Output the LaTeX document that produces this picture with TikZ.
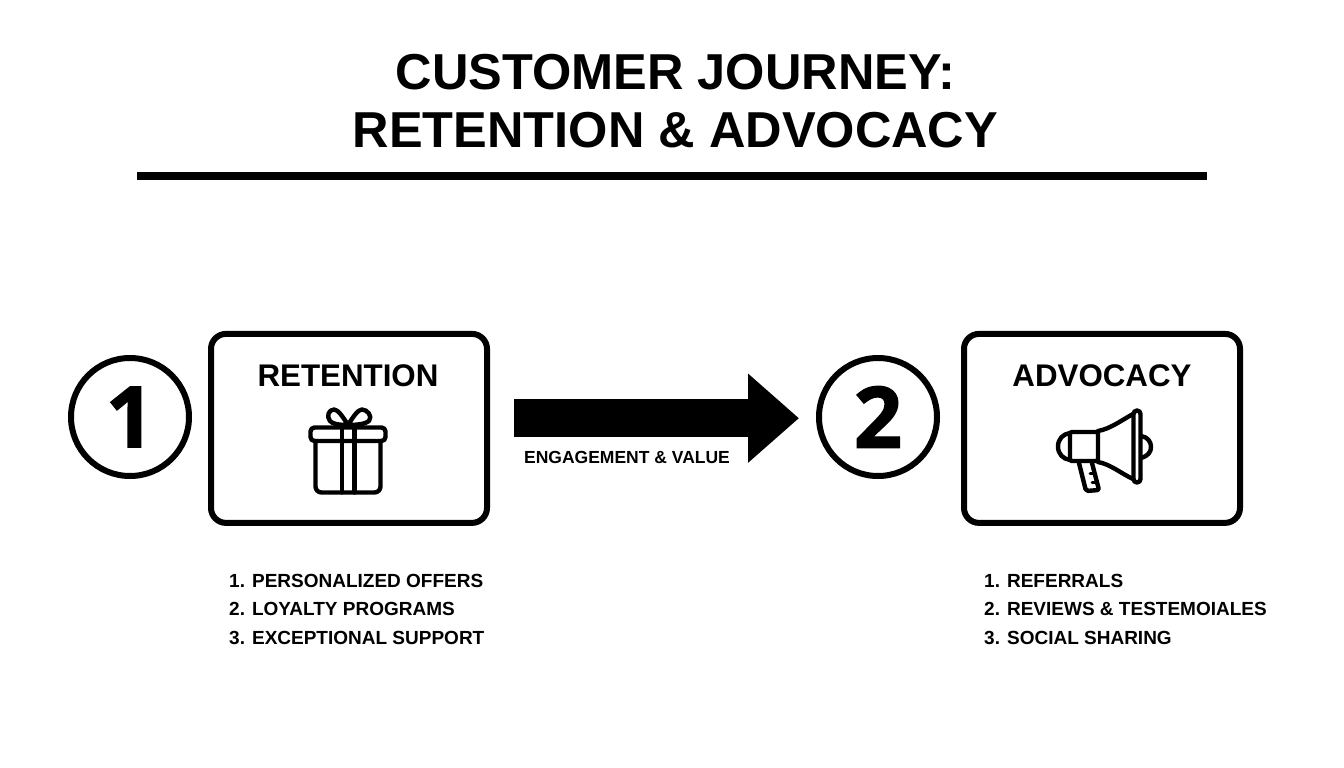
\documentclass[tikz,border=0pt]{standalone}
\usepackage{fontspec}
\setmainfont{Liberation Sans}
\newfontfamily\digitfont[BoldFeatures={FakeBold=1.5}]{Open Sans}
\usetikzlibrary{arrows.meta,calc}
\tikzset{
  panel/.style={draw=black,line width=6pt,rounded corners=15pt,minimum width=276pt,minimum height=189pt,inner sep=0pt},
  badge/.style={draw=black,line width=6pt,circle,minimum size=118pt,inner sep=0pt,font=\digitfont\bfseries\fontsize{85}{85}\selectfont},
  heading/.style={font=\bfseries\fontsize{31.3}{31.3}\selectfont,inner sep=0pt},
  titletext/.style={font=\bfseries\fontsize{50.5}{58}\selectfont,inner sep=0pt,align=center},
  listing/.style={font=\bfseries\fontsize{19}{28.3}\selectfont,inner sep=0pt,align=left,anchor=north west},
  icon/.style={line width=4.4pt,line join=round,line cap=round},
  bigarrow/.style={line width=37.5pt,-{Triangle[length=51pt,width=86pt]}},
}
\begin{document}
\begin{tikzpicture}[x=1pt,y=-1pt]
\useasboundingbox (0,0) rectangle (1344,768);
\fill[white] (0,0) rectangle (1344,768);
\node[titletext] (title) at (675.5,101) {CUSTOMER JOURNEY:\\RETENTION \& ADVOCACY};
\coordinate (ruleL) at (137,176);
\coordinate (ruleR) at (1207,176);
\draw[line width=8pt] (ruleL) -- (ruleR);
\node[badge] (c1) at (130,417) {\raisebox{-2pt}{1}};
\node[badge] (c2) at (878,417) {\raisebox{-2pt}{2}};
\node[panel] (b1) at (349,428.4) {};
\node[panel] (b2) at (1102,428.4) {};
\node[heading] (h1) at (348,376) {RETENTION};
\node[heading] (h2) at (1102,376) {ADVOCACY};
\draw[bigarrow,shorten <=24pt,shorten >=17pt] ($(b1.east |- c2.west)+(0,1.2)$) -- ($(c2.west)+(0,1.2)$);
\node[font=\bfseries\fontsize{17.5}{17.5}\selectfont,inner sep=0pt] (lab) at (627,457) {ENGAGEMENT \& VALUE};
\node[listing] (l1) at (229,574) {1. PERSONALIZED OFFERS\\2. LOYALTY PROGRAMS\\3. EXCEPTIONAL SUPPORT};
\node[listing] (l2) at (984,574) {1. REFERRALS\\2. REVIEWS \& TESTEMOIALES\\3. SOCIAL SHARING};
% gift icon
\begin{scope}[icon]
\draw[rounded corners=4pt] (310.5,427.5) rectangle (385.5,441);
\draw[rounded corners=6pt] (315.5,441) -- (315.5,492.5) -- (380.5,492.5) -- (380.5,441);
\draw (342,427.5) -- (342,492.5) (354.5,427.5) -- (354.5,492.5);
\draw (348,425) .. controls (343,417) and (338,409.5) .. (334,409.5) .. controls (329,409.5) and (326,416) .. (330,421) .. controls (332,424) and (340,425) .. (348,425);
\draw (348,425) .. controls (353,417) and (358,409.5) .. (362,409.5) .. controls (367,409.5) and (373,416) .. (369,421) .. controls (366,424) and (356,425) .. (348,425);
% megaphone icon
\draw[rounded corners=2pt] (1070,432) -- (1098,432) -- (1098,461) -- (1070,461) -- cycle;
\draw (1070,433) .. controls (1063,434) and (1058,439) .. (1058,446.5) .. controls (1058,454) and (1063,459) .. (1070,460);
\draw (1098,431) .. controls (1110,429) and (1122,420) .. (1133,414);
\draw (1098,462) .. controls (1110,464) and (1122,474) .. (1133,479);
\draw[rounded corners=3.5pt] (1133.5,410.5) rectangle (1140.5,482.5);
\draw (1141,436) .. controls (1148,437) and (1151,442) .. (1151,447) .. controls (1151,452) and (1148,456) .. (1141,458);
\draw[rounded corners=2pt] (1079,463) -- (1086,491) -- (1099,490) -- (1092,463);
\draw[line width=3pt] (1090,473) -- (1094,473) (1092,482) -- (1096,482);
\end{scope}
\end{tikzpicture}
\end{document}
